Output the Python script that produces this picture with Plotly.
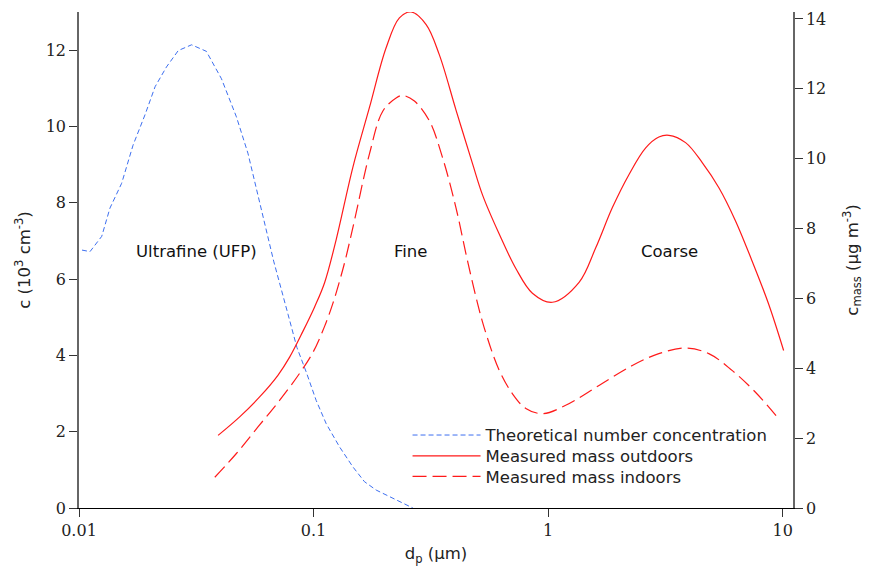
import numpy as np
import plotly.graph_objects as go

# ---- data ----
# Theoretical number concentration (10^3 cm^-3), left axis
num_dp = [0.0103, 0.01114, 0.0125, 0.01355, 0.0152, 0.0170, 0.0191, 0.0211, 0.0236,
          0.0265, 0.0302, 0.0349, 0.0405, 0.0469, 0.0525, 0.0608, 0.0676, 0.0778,
          0.0849, 0.0931, 0.1026, 0.1132, 0.1291, 0.1470, 0.1648, 0.1849, 0.2178, 0.265]
num_c = [6.76, 6.72, 7.12, 7.86, 8.51, 9.51, 10.30, 11.04, 11.56,
         11.99, 12.14, 11.97, 11.25, 10.25, 9.30, 7.69, 6.47, 5.08,
         4.21, 3.56, 2.82, 2.21, 1.60, 1.08, 0.69, 0.47, 0.25, 0.0]

# Measured mass outdoors (ug m^-3), right axis
out_logdp = [-1.407, -1.315, -1.230, -1.152, -1.102, -1.046, -0.996, -0.953, -0.903,
             -0.833, -0.762, -0.691, -0.634, -0.584, -0.520, -0.464, -0.393, -0.322,
             -0.279, -0.209, -0.137, -0.067, 0.018, 0.132, 0.203, 0.274, 0.345, 0.416,
             0.472, 0.515, 0.586, 0.657, 0.728, 0.799, 0.869, 0.940, 1.004]
out_c = [2.08, 2.61, 3.18, 3.80, 4.32, 5.05, 5.75, 6.45, 7.70,
         9.74, 11.46, 13.17, 14.03, 14.20, 13.84, 12.98, 11.40, 9.85,
         8.95, 7.85, 6.85, 6.15, 5.89, 6.46, 7.45, 8.60, 9.55, 10.31,
         10.62, 10.67, 10.46, 9.89, 9.17, 8.22, 7.08, 5.84, 4.51]

# Measured mass indoors (ug m^-3), right axis
in_logdp = [-1.421, -1.329, -1.237, -1.145, -1.060, -1.003, -0.953, -0.918, -0.889,
            -0.864, -0.826, -0.762, -0.705, -0.648, -0.620, -0.570, -0.506, -0.450,
            -0.393, -0.350, -0.308, -0.272, -0.209, -0.152, -0.095, -0.024, 0.075,
            0.217, 0.359, 0.472, 0.586, 0.685, 0.784, 0.883, 0.976]
in_c = [0.88, 1.56, 2.32, 3.08, 3.85, 4.45, 5.20, 5.85, 6.50,
        7.12, 8.22, 10.13, 11.36, 11.74, 11.81, 11.65, 11.08, 10.03,
        8.60, 7.27, 6.05, 5.15, 3.95, 3.27, 2.85, 2.70, 2.94,
        3.51, 4.08, 4.42, 4.58, 4.42, 3.94, 3.32, 2.61]

out_dp = [10 ** v for v in out_logdp]
in_dp = [10 ** v for v in in_logdp]

x_ticks = [0.01, 0.1, 1, 10]
x_ticktext = ["0.01", "0.1", "1", "10"]
y1_ticks = [0, 2, 4, 6, 8, 10, 12]
y2_ticks = [0, 2, 4, 6, 8, 10, 12, 14]

mode_labels = ["Ultrafine (UFP)", "Fine", "Coarse"]
mode_x = [0.0318, 0.258, 3.30]
mode_y = [6.73, 6.73, 6.73]

BLUE = "#3d6ff0"
RED = "#ff1a1a"
SERIF = "DejaVu Serif"
SANS = "DejaVu Sans"
FS = 16.5

fig = go.Figure()
fig.add_trace(go.Scatter(x=num_dp, y=num_c, mode="lines", name="Theoretical number concentration",
                         line=dict(color=BLUE, width=1, dash="5px,3px"), yaxis="y", legend="legend"))
fig.add_trace(go.Scatter(x=out_dp, y=out_c, mode="lines", name="Measured mass outdoors",
                         line=dict(color=RED, width=1.2, shape="spline", smoothing=1.0),
                         yaxis="y2", legend="legend2"))
fig.add_trace(go.Scatter(x=in_dp, y=in_c, mode="lines", name="Measured mass indoors",
                         line=dict(color=RED, width=1.2, dash="14px,6px", shape="spline", smoothing=1.0),
                         yaxis="y2", legend="legend3"))

for t, xv, yv in zip(mode_labels, mode_x, mode_y):
    fig.add_annotation(x=np.log10(xv), y=yv, xref="x", yref="y", text=t, showarrow=False,
                       font=dict(family=SANS, size=FS, color="#111"))

L, R, T, B = 79, 75, 10, 69
W, H = 869, 577
pw, ph = W - L - R, H - T - B


def leg(row_y):
    return dict(x=(408 - L) / pw, y=(508 - row_y) / ph, xanchor="left", yanchor="middle",
                font=dict(family=SANS, size=FS, color="#222"), bgcolor="rgba(0,0,0,0)",
                itemwidth=68)


tick_font = dict(family=SERIF, size=16, color="#222")
title_font = dict(family=SANS, size=FS, color="#222")

fig.update_layout(
    width=W, height=H,
    margin=dict(l=L, r=R, t=T, b=B, pad=0),
    paper_bgcolor="white", plot_bgcolor="white",
    showlegend=True,
    legend=leg(435), legend2=leg(456), legend3=leg(476.5),
    xaxis=dict(type="log", range=[-2, 1.044], tickvals=x_ticks, ticktext=x_ticktext,
               showgrid=False, zeroline=False, showline=True, linecolor="black", linewidth=1.2,
               ticks="outside", ticklen=8, tickcolor="#333", tickwidth=1,
               tickfont=tick_font,
               title=dict(text="d<sub>p</sub> (µm)", font=title_font, standoff=8)),
    yaxis=dict(range=[0, 13], tickvals=y1_ticks, showgrid=False, zeroline=False,
               showline=True, linecolor="#666", linewidth=1.5,
               ticks="outside", ticklen=8, tickcolor="#333", tickwidth=1,
               tickfont=tick_font,
               title=dict(text="c (10<sup>3</sup> cm<sup>-3</sup>)", font=title_font, standoff=11)),
    yaxis2=dict(range=[0, 14.2], tickvals=y2_ticks, overlaying="y", side="right",
                showgrid=False, zeroline=False, showline=True, linecolor="#666", linewidth=1.5,
                ticks="outside", ticklen=8, tickcolor="#333", tickwidth=1,
                tickfont=tick_font,
                title=dict(text="c<sub>mass</sub> (µg m<sup>-3</sup>)", font=title_font, standoff=21)),
)

fig.write_html("out.html")
